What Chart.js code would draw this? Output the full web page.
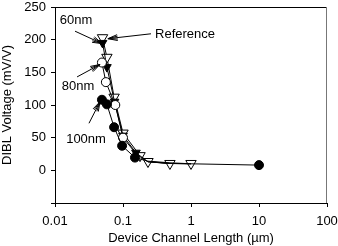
<!DOCTYPE html>
<html><head><meta charset="utf-8">
<script src="https://cdn.jsdelivr.net/npm/chart.js@4/dist/chart.umd.min.js"></script>
<style>html,body{margin:0;padding:0;background:#fff}#w{width:338px;height:246px}</style>
</head><body><div id="w"><canvas id="c"></canvas></div>
<script>
// Data (x = device channel length in µm, y = DIBL voltage in mV/V)
const refX = [0.05, 0.058, 0.074, 0.1, 0.178, 0.233, 0.49, 1];
const refY = [203, 173, 112, 57, 22.5, 13.5, 10.5, 10.5];
const n60X = [0.05, 0.058, 0.075, 0.1, 0.155, 0.233, 0.49, 1];
const n60Y = [195, 158, 105, 53, 27, 13, 10.5, 10];
const n80X = [0.049, 0.056, 0.077, 0.1, 0.16, 0.233, 0.49, 1];
const n80Y = [165, 135, 100, 50, 24, 13, 10.5, 10];
const n100X = [0.049, 0.058, 0.074, 0.097, 0.15, 0.233, 0.49, 1, 10];
const n100Y = [108, 101, 66, 37.6, 19.5, 14, 11.5, 10, 8];
const xTicks = [0.01, 0.1, 1, 10, 100];
const yTicks = [-50, 0, 50, 100, 150, 200, 250];
const labelNames = ['60nm', 'Reference', '80nm', '100nm'];
// annotation anchors in data units: [textX, textY, tailX, tailY, tipX, tipY, align]
const labelAnchors = [
  [0.0204, 230, 0.0197, 213, 0.049, 194, 'center'],
  [0.296, 207.5, 0.258, 209, 0.060, 201.5, 'left'],
  [0.0218, 128, 0.0211, 143, 0.0459, 162, 'center'],
  [0.0286, 46.6, 0.0316, 72, 0.0459, 105, 'center']
];

const pts = (xs, ys) => xs.map((x, i) => ({x: x, y: ys[i]}));
const FONT = '"Liberation Sans", Arial, sans-serif';

const annot = {
  id: 'annot',
  afterDatasetsDraw(chart) {
    const ctx = chart.ctx, xs = chart.scales.x, ys = chart.scales.y;
    ctx.save();
    ctx.strokeStyle = '#000'; ctx.fillStyle = '#000'; ctx.lineWidth = 1;
    ctx.font = '13px ' + FONT;
    ctx.textBaseline = 'middle';
    labelAnchors.forEach((a, i) => {
      const tx = xs.getPixelForValue(a[0]), ty = ys.getPixelForValue(a[1]);
      ctx.textAlign = a[6];
      ctx.fillText(labelNames[i], tx, ty);
      const x0 = xs.getPixelForValue(a[2]), y0 = ys.getPixelForValue(a[3]);
      const x1 = xs.getPixelForValue(a[4]), y1 = ys.getPixelForValue(a[5]);
      ctx.beginPath(); ctx.moveTo(x0, y0); ctx.lineTo(x1, y1); ctx.stroke();
      const ang = Math.atan2(y0 - y1, x0 - x1);
      [-0.3, 0.3, -0.15, 0.15].forEach(d => {
        ctx.beginPath(); ctx.moveTo(x1, y1);
        ctx.lineTo(x1 + 10 * Math.cos(ang + d), y1 + 10 * Math.sin(ang + d));
        ctx.stroke();
      });
    });
    // frame top and right
    const ca = chart.chartArea;
    ctx.beginPath(); ctx.moveTo(ca.left, ca.top + 0.5); ctx.lineTo(ca.right, ca.top + 0.5); ctx.stroke();
    ctx.strokeStyle = '#777';
    ctx.beginPath(); ctx.moveTo(ca.right - 0.5, ca.top); ctx.lineTo(ca.right - 0.5, ca.bottom); ctx.stroke();
    ctx.restore();
  }
};

// markers of points hidden beneath the Reference triangles in the original are not drawn
const radii = (n, r, shown, last) => Array.from({length: n}, (_, i) => (i < shown || (last && i === n - 1) ? r : 0));
const ds = (label, data, style, rot, fill, r) => ({
  label, data, showLine: true, borderColor: '#000', borderWidth: 1,
  pointStyle: style, rotation: rot, pointRadius: r, pointBackgroundColor: fill,
  pointBorderColor: '#000', pointBorderWidth: 1, tension: 0
});

new Chart(document.getElementById('c'), {
  type: 'scatter',
  data: {
    datasets: [
      ds('100nm', pts(n100X, n100Y), 'circle', 0, '#000', radii(n100X.length, 4.5, 5, true)),
      ds('80nm', pts(n80X, n80Y), 'circle', 0, '#fff', radii(n80X.length, 4.5, 4, false)),
      ds('60nm', pts(n60X, n60Y), 'triangle', 180, '#000', radii(n60X.length, 5, 5, false)),
      ds('Reference', pts(refX, refY), 'triangle', 180, '#fff', 6)
    ]
  },
  options: {
    responsive: true, maintainAspectRatio: false, animation: false,
    layout: {padding: {left: 0, right: 11, top: 4, bottom: 0}},
    plugins: {legend: {display: false}, tooltip: {enabled: false}},
    scales: {
      x: {
        type: 'logarithmic', min: 0.01, max: 100,
        afterBuildTicks: s => { s.ticks = xTicks.map(v => ({value: v})); },
        afterFit: s => { s.height = 43; s.paddingLeft = 0; s.paddingRight = 0; },
        ticks: {callback: v => String(v), color: '#000', font: {family: FONT, size: 13}, padding: 7, maxRotation: 0, autoSkip: false},
        grid: {drawOnChartArea: false, drawTicks: true, tickLength: 4, color: '#000'},
        border: {display: true, color: '#000'},
        title: {display: true, text: 'Device Channel Length (\u00b5m)', color: '#000', font: {family: FONT, size: 13}, padding: {top: 2, bottom: 0}}
      },
      y: {
        min: -50, max: 250,
        afterBuildTicks: s => { s.ticks = yTicks.map(v => ({value: v})); },
        afterFit: s => { s.width = 55; s.paddingTop = 0; s.paddingBottom = 0; },
        ticks: {callback: v => (v < 0 ? '' : String(v)), color: '#000', font: {family: FONT, size: 13}, padding: 5},
        grid: {drawOnChartArea: false, drawTicks: true, tickLength: 4, color: '#000'},
        border: {display: true, color: '#000'},
        title: {display: true, text: 'DIBL Voltage (mV/V)', color: '#000', font: {family: FONT, size: 13}, padding: {top: 0, bottom: 2}}
      }
    }
  },
  plugins: [annot]
});
</script>
</body></html>
